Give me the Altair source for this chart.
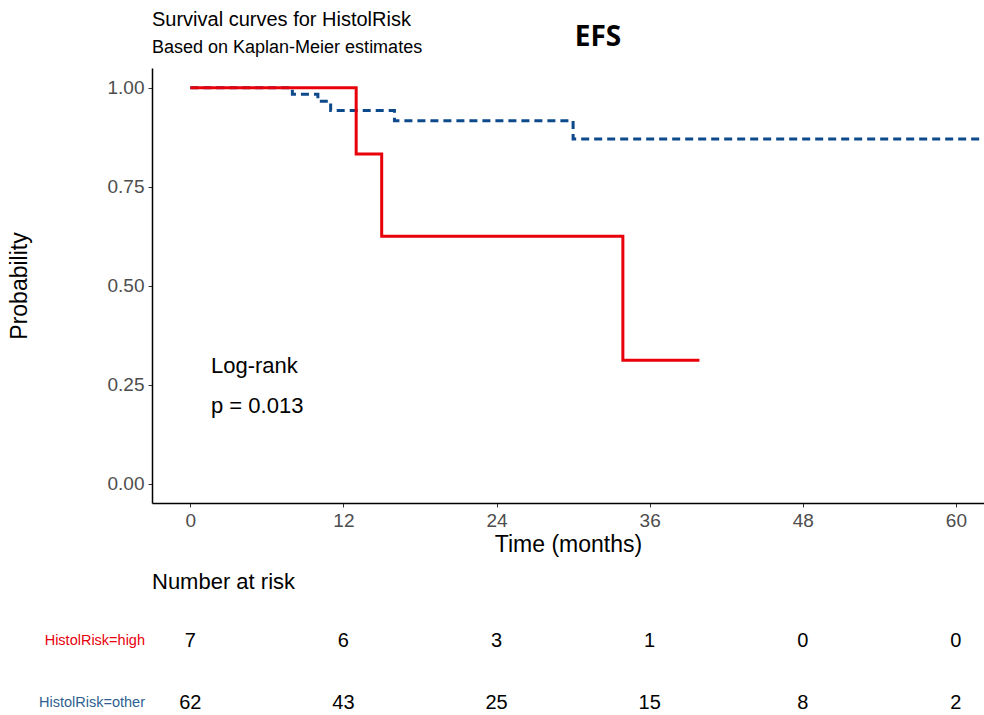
import altair as alt
import pandas as pd

# Kaplan-Meier step estimates (time in months, survival probability)
high_time = [0, 13, 15, 33.9, 39.9]
high_surv = [1.0, 0.833, 0.625, 0.3125, 0.3125]
other_time = [0, 8, 10, 11, 16, 30, 63]
other_surv = [1.0, 0.984, 0.966, 0.943, 0.917, 0.871, 0.871]

# Number-at-risk table
risk_times = [0, 12, 24, 36, 48, 60]
risk_high = [7, 6, 3, 1, 0, 0]
risk_other = [62, 43, 25, 15, 8, 2]

x_ticks = [0, 12, 24, 36, 48, 60]
y_ticks = [0.0, 0.25, 0.5, 0.75, 1.0]

RED = "#e8000b"
BLUE = "#0c4a8c"
FONT = "Liberation Sans"

high_df = pd.DataFrame({"time": high_time, "surv": high_surv})
other_df = pd.DataFrame({"time": other_time, "surv": other_surv})

xscale = alt.Scale(domain=[-3, 62.2], nice=False, zero=False)
yscale = alt.Scale(domain=[-0.048, 1.05], nice=False, zero=False)

xaxis = alt.Axis(values=x_ticks, title="Time (months)", grid=False,
                 labelFontSize=19, labelColor="#4d4d4d", labelFont=FONT,
                 tickColor="#333333", tickSize=4, labelPadding=4,
                 titleFontSize=23, titleFont=FONT, titleFontWeight="normal",
                 titleColor="black", titlePadding=3,
                 domainColor="black", domainWidth=1.5)
yaxis = alt.Axis(values=y_ticks, format=".2f", title=None, grid=False,
                 labelFontSize=19, labelColor="#4d4d4d", labelFont=FONT,
                 tickColor="#333333", tickSize=4, labelPadding=4,
                 domainColor="black", domainWidth=1.5)

base_x = alt.X("time:Q", scale=xscale, axis=xaxis)
base_y = alt.Y("surv:Q", scale=yscale, axis=yaxis)

other_line = alt.Chart(other_df).mark_line(
    interpolate="step-after", color=BLUE, strokeWidth=3, strokeDash=[8, 5], clip=True
).encode(x=base_x, y=base_y)

high_line = alt.Chart(high_df).mark_line(
    interpolate="step-after", color=RED, strokeWidth=3, clip=True
).encode(x=base_x, y=base_y)

# Risk table rows, aligned to the time axis
risk_df = pd.DataFrame({
    "time": risk_times * 2,
    "n": risk_high + risk_other,
    "row": ["high"] * len(risk_times) + ["other"] * len(risk_times),
})
risk_high_text = alt.Chart(risk_df[risk_df.row == "high"]).mark_text(
    fontSize=20, font=FONT, color="black", baseline="middle", align="center"
).encode(x=alt.X("time:Q", scale=xscale), y=alt.value(573), text="n:Q")
risk_other_text = alt.Chart(risk_df[risk_df.row == "other"]).mark_text(
    fontSize=20, font=FONT, color="black", baseline="middle", align="center"
).encode(x=alt.X("time:Q", scale=xscale), y=alt.value(635), text="n:Q")


def label(txt, x, y, size, color="black", align="left", weight="normal",
          font=FONT, angle=0, baseline="middle"):
    return alt.Chart(pd.DataFrame({"t": [txt]})).mark_text(
        fontSize=size, font=font, color=color, align=align, fontWeight=weight,
        angle=angle, baseline=baseline
    ).encode(x=alt.value(x), y=alt.value(y), text="t:N")


labels = [
    label("Survival curves for HistolRisk", 0, -48, 20),
    label("Based on Kaplan-Meier estimates", 0, -20, 18),
    label("EFS", 446, -30, 28, weight="bold", align="center", font="Open Sans"),
    label("Probability", -132, 218, 23, angle=270, align="center"),
    label("Log-rank", 59, 298, 22),
    label("p = 0.013", 59, 338, 22),
    label("Number at risk", 0, 514, 22),
    label("HistolRisk=high", -7, 573, 14.5, color=RED, align="right"),
    label("HistolRisk=other", -7, 635, 14.5, color="#2f5f8f", align="right"),
]

chart = alt.layer(
    other_line, high_line, risk_high_text, risk_other_text, *labels
).properties(
    width=832, height=435,
    autosize=alt.AutoSizeParams(type="none"),
    padding={"left": 152, "top": 68, "right": 0, "bottom": 212},
    background="white",
).configure_view(stroke=None)

chart.save("out.html", embed_options={"renderer": "svg", "actions": False})
